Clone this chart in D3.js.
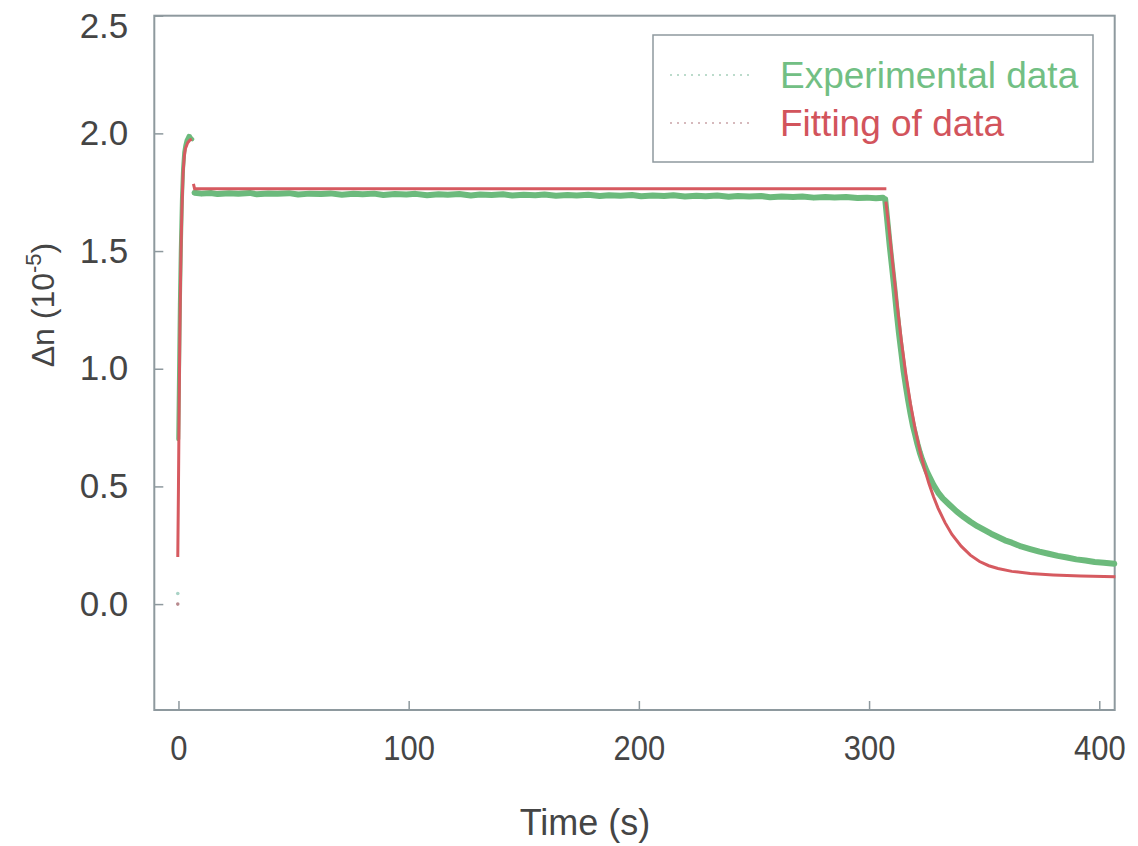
<!DOCTYPE html>
<html>
<head>
<meta charset="utf-8">
<script src="https://cdn.jsdelivr.net/npm/d3@7"></script>
<style>
  body { margin: 0; background: #fff; }
  text { font-family: 'Liberation Sans', Arial, sans-serif; }
</style>
</head>
<body>
<div id="chart"></div>
<script>
// Experimental data (time in s, delta n in 1e-5)
const expStart = [[-0.3, 0.045]];
const expRise = [[-0.1, 0.7], [0.2, 0.95], [0.6, 1.27], [1.0, 1.5], [1.5, 1.72], [2.0, 1.85], [2.5, 1.92],
  [3.0, 1.95], [3.5, 1.97], [4.0, 1.98], [4.5, 1.99], [5.0, 1.988], [5.5, 1.98], [6.0, 1.975]];
const expPlateau = [[7, 1.748], [10, 1.744], [14, 1.747], [17, 1.742], [22, 1.746], [26, 1.743], [31, 1.747],
  [34, 1.741], [39, 1.745], [43, 1.743], [48, 1.746], [52, 1.740], [57, 1.744], [62, 1.742], [66, 1.745],
  [71, 1.739], [76, 1.743], [80, 1.741], [85, 1.744], [89, 1.738], [94, 1.742], [99, 1.740], [103, 1.743],
  [108, 1.737], [113, 1.741], [117, 1.739], [122, 1.742], [127, 1.736], [131, 1.740], [136, 1.738],
  [141, 1.741], [145, 1.736], [150, 1.739], [155, 1.737], [159, 1.740], [164, 1.735], [169, 1.738],
  [173, 1.736], [178, 1.739], [183, 1.734], [187, 1.737], [192, 1.735], [197, 1.738], [201, 1.733],
  [206, 1.736], [211, 1.734], [215, 1.737], [220, 1.732], [225, 1.735], [229, 1.733], [234, 1.736],
  [239, 1.731], [243, 1.734], [248, 1.732], [253, 1.734], [257, 1.729], [262, 1.732], [267, 1.730],
  [271, 1.732], [276, 1.727], [281, 1.730], [285, 1.728], [290, 1.730], [295, 1.725], [299, 1.727],
  [303, 1.724], [306, 1.726]];
const expDecay = [[307, 1.72], [308, 1.62], [309, 1.52], [310, 1.43], [311, 1.34], [312, 1.24], [313, 1.15],
  [314, 1.07], [315, 0.99], [316, 0.925], [317, 0.865], [318, 0.81], [319, 0.76], [320, 0.72], [321, 0.68],
  [322, 0.645], [323, 0.615], [324, 0.59], [325, 0.565], [326, 0.545], [328, 0.506], [330, 0.474],
  [332, 0.449], [335, 0.421], [338, 0.394], [341, 0.371], [344, 0.350], [347, 0.331], [350, 0.315],
  [353, 0.299], [356, 0.285], [359, 0.271], [362, 0.261], [366, 0.245], [370, 0.234], [374, 0.223],
  [378, 0.214], [382, 0.205], [386, 0.198], [390, 0.190], [394, 0.185], [398, 0.179], [402, 0.176],
  [406.5, 0.171]];

// Fitting of data
const fitStart = [[-0.3, 0.0]];
const fitRise = [[-0.3, 0.2], [0.0, 0.5], [0.3, 0.85], [0.6, 1.15], [0.9, 1.38], [1.2, 1.55], [1.5, 1.68],
  [2.0, 1.83], [2.5, 1.9], [3.0, 1.935], [4.0, 1.96], [5.0, 1.972], [5.8, 1.975]];
const fitPlateau = [[6.5, 1.785], [7.0, 1.765], [307.5, 1.765]];
const fitDecay = [[307.3, 1.71], [308.5, 1.61], [310, 1.47], [312, 1.29], [314, 1.12], [316, 0.975],
  [318, 0.85], [320, 0.745], [322, 0.655], [324, 0.578], [326, 0.512], [328, 0.456], [330, 0.407],
  [333, 0.346], [336, 0.296], [340, 0.246], [344, 0.208], [348, 0.181], [352, 0.163], [356, 0.151],
  [362, 0.139], [370, 0.130], [380, 0.124], [392, 0.119], [407, 0.116]];

const xTicks = [0, 100, 200, 300, 400];
const yTicks = [0, 0.5, 1.0, 1.5, 2.0, 2.5];
const legendLabels = ['Experimental data', 'Fitting of data'];

const margin = {
  top: 15.7,
  right: 23.3,
  bottom: 136,
  left: 154.3
};

const width = 1138 - margin.left - margin.right,
  height = 846 - margin.top - margin.bottom;

const green = '#6cba7c',
  red = '#d65a60',
  frameColor = '#8e999e',
  textColor = '#454545';

//SVG container
const svg = d3.select('#chart')
  .append('svg')
  .attr('width', 1138)
  .attr('height', 846)
  .append('g')
  .attr('transform', 'translate(' + margin.left + ',' + margin.top + ')');

const x = d3.scaleLinear()
  .domain([-10.5, 406.7])
  .range([0, width]);

const y = d3.scaleLinear()
  .domain([-0.45, 2.5])
  .range([height, 0]);

const line = d3.line()
  .x(function (d) { return x(d[0]); })
  .y(function (d) { return y(d[1]); });

//Axes
const xAxis = svg.append('g')
  .attr('transform', 'translate(0,' + height + ')')
  .call(d3.axisBottom(x).tickValues(xTicks).tickFormat(d3.format('d'))
    .tickSizeInner(-9).tickSizeOuter(0).tickPadding(24));

xAxis.select('.domain').remove();
xAxis.selectAll('line').attr('stroke', frameColor).attr('stroke-width', 1.5);
xAxis.selectAll('text')
  .attr('fill', textColor)
  .style('font-size', '36px')
  .attr('transform', 'scale(0.86,1)');

const yAxis = svg.append('g')
  .call(d3.axisLeft(y).tickValues(yTicks).tickFormat(d3.format('.1f'))
    .tickSizeInner(-9).tickSizeOuter(0).tickPadding(26));

yAxis.select('.domain').remove();
yAxis.selectAll('line').attr('stroke', frameColor).attr('stroke-width', 1.5);
yAxis.selectAll('text')
  .attr('fill', textColor)
  .attr('dy', function (d) { return d === 2.5 ? '0.62em' : '0.32em'; })
  .style('font-size', '35px');

//Frame
svg.append('rect')
  .attr('x', 0)
  .attr('y', 0)
  .attr('width', width)
  .attr('height', height)
  .attr('fill', 'none')
  .attr('stroke', frameColor)
  .attr('stroke-width', 2);

//Axis titles
svg.append('text')
  .attr('x', 585 - margin.left)
  .attr('y', 835 - margin.top)
  .attr('text-anchor', 'middle')
  .attr('fill', textColor)
  .style('font-size', '36px')
  .text('Time (s)');

const yTitle = svg.append('text')
  .attr('transform', 'translate(' + (54 - margin.left) + ',' + (305 - margin.top) + ') rotate(-90)')
  .attr('text-anchor', 'middle')
  .attr('fill', textColor)
  .style('font-size', '32px');
yTitle.append('tspan').text('\u0394n (10');
yTitle.append('tspan').attr('dy', -13).style('font-size', '22px').text('-5');
yTitle.append('tspan').attr('dy', 13).text(')');

//Experimental data
const expGroup = svg.append('g');

[expRise, expPlateau, expDecay].forEach(function (seg, i) {
  expGroup.append('path')
    .datum(seg)
    .attr('d', line)
    .attr('fill', 'none')
    .attr('stroke', green)
    .attr('stroke-width', i === 0 ? 4 : 6)
    .attr('stroke-linejoin', 'round')
    .attr('stroke-linecap', 'round');
});

expGroup.selectAll('.expDot')
  .data(expStart)
  .enter().append('circle')
  .attr('class', 'expDot')
  .attr('cx', function (d) { return x(d[0]); })
  .attr('cy', function (d) { return y(d[1]); })
  .attr('r', 1.8)
  .attr('fill', '#a9d3c6');

//Fit
const fitGroup = svg.append('g');

[fitRise, fitPlateau, fitDecay].forEach(function (seg) {
  fitGroup.append('path')
    .datum(seg)
    .attr('d', line)
    .attr('fill', 'none')
    .attr('stroke', red)
    .attr('stroke-width', 3);
});

fitGroup.selectAll('.fitDot')
  .data(fitStart)
  .enter().append('circle')
  .attr('class', 'fitDot')
  .attr('cx', function (d) { return x(d[0]); })
  .attr('cy', function (d) { return y(d[1]); })
  .attr('r', 1.8)
  .attr('fill', '#b88a8e');

//Legend
const legend = svg.append('g')
  .attr('transform', 'translate(' + (653 - margin.left) + ',' + (35 - margin.top) + ')');

legend.append('rect')
  .attr('width', 440)
  .attr('height', 127)
  .attr('fill', 'none')
  .attr('stroke', frameColor)
  .attr('stroke-width', 1.5);

const legendItems = legend.selectAll('.legendItem')
  .data(legendLabels)
  .enter().append('g')
  .attr('class', 'legendItem')
  .attr('transform', function (d, i) { return 'translate(0,' + (40 + i * 48) + ')'; });

legendItems.append('line')
  .attr('x1', 17)
  .attr('x2', 100)
  .attr('stroke', function (d, i) { return i === 0 ? '#a5d0bb' : '#c9a3a6'; })
  .attr('stroke-width', 1.5)
  .attr('stroke-dasharray', '2,5');

legendItems.append('text')
  .attr('x', 127)
  .attr('dy', '0.35em')
  .attr('fill', function (d, i) { return i === 0 ? '#72bf84' : '#d2545c'; })
  .style('font-size', '37px')
  .text(function (d) { return d; });
</script>
</body>
</html>
